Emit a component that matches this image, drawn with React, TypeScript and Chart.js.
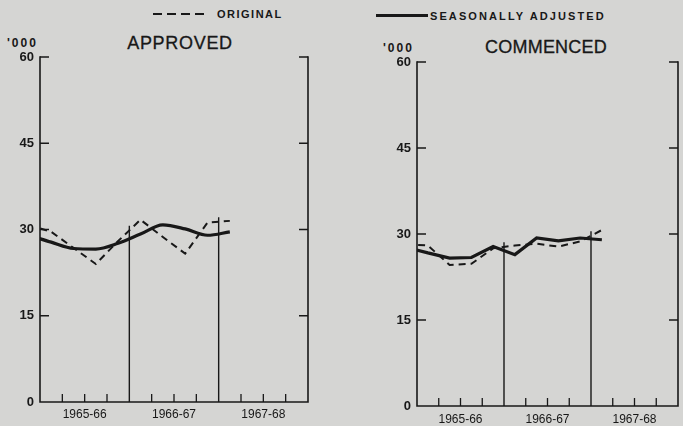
import React, { useEffect, useRef } from 'react';
import { Chart, registerables } from 'chart.js';

Chart.register(...registerables);

// Quarters plotted (mid-quarter). Jun 1965 lies half a quarter before the axis start.
const quarters = ['Jun 1965', 'Sep 1965', 'Dec 1965', 'Mar 1966', 'Jun 1966', 'Sep 1966', 'Dec 1966', 'Mar 1967', 'Jun 1967', 'Sep 1967'];
const yearLabels = ['1965-66', '1966-67', '1967-68'];
const yTickValues = [0, 15, 30, 45, 60];

// Dwellings, '000
const approvedOriginal = [30.8, 29.6, 26.8, 24.0, 28.0, 31.7, 28.7, 25.8, 31.2, 31.5];
const approvedAdjusted = [29.0, 27.8, 26.7, 26.6, 27.6, 29.2, 30.8, 30.1, 29.0, 29.6];
const commencedOriginal = [28.2, 28.0, 24.6, 24.8, 27.5, 28.0, 28.3, 27.8, 28.7, 30.7];
const commencedAdjusted = [27.7, 26.7, 25.8, 25.9, 27.8, 26.4, 29.3, 28.8, 29.3, 29.0];

const INK = '#181818';
const BG = '#d5d5d3';
const FONT = "'Liberation Sans', Arial, sans-serif";

const QUARTERS_SPAN = yearLabels.length * 4;

type Pt = { x: number; y: number };

function toPoints(values: number[]): Pt[] {
  return values.map((v, i) => ({ x: i - 0.5, y: v }));
}

function interp(pts: Pt[], q: number): number {
  for (let i = 0; i < pts.length - 1; i++) {
    const a = pts[i], b = pts[i + 1];
    if (q >= a.x && q <= b.x) {
      const t = (q - a.x) / (b.x - a.x);
      return a.y + t * (b.y - a.y);
    }
  }
  return pts[pts.length - 1].y;
}

const framePlugin = {
  id: 'frame',
  beforeDatasetsDraw(chart: any) {
    const { ctx, chartArea, scales } = chart;
    const { left, right, top, bottom } = chartArea;
    const x = scales.x, y = scales.y;
    ctx.save();
    ctx.strokeStyle = INK;
    ctx.lineWidth = 1.6;
    ctx.lineCap = 'square';
    ctx.beginPath();
    ctx.moveTo(left, top);
    ctx.lineTo(left, bottom);
    ctx.lineTo(right, bottom);
    ctx.lineTo(right, top);
    ctx.stroke();

    ctx.lineWidth = 1.3;
    ctx.lineCap = 'butt';
    ctx.beginPath();
    for (const v of yTickValues) {
      if (v === 0) continue;
      const py = y.getPixelForValue(v);
      ctx.moveTo(left, py);
      ctx.lineTo(left + 9, py);
      ctx.moveTo(right, py);
      ctx.lineTo(right - 9, py);
    }
    for (let q = 1; q < QUARTERS_SPAN; q++) {
      if (q % 4 === 0) continue;
      const px = x.getPixelForValue(q);
      ctx.moveTo(px, bottom);
      ctx.lineTo(px, bottom - 8);
    }
    ctx.stroke();

    // year separators, rising to just above the plotted lines
    const series: Pt[][] = chart.data.datasets.map((d: any) => d.data as Pt[]);
    ctx.lineWidth = 1.4;
    ctx.beginPath();
    for (let q = 4; q < QUARTERS_SPAN; q += 4) {
      const topVal = Math.max(...series.map((s) => interp(s, q))) + 0.8;
      const px = x.getPixelForValue(q);
      ctx.moveTo(px, bottom);
      ctx.lineTo(px, y.getPixelForValue(topVal));
    }
    ctx.stroke();
    ctx.restore();
  },
};

type PanelProps = {
  original: number[];
  adjusted: number[];
  smooth: boolean;
  padding: { left: number; right: number; top: number; bottom: number };
  xLabelPad: number;
};

function Panel({ original, adjusted, smooth, padding, xLabelPad }: PanelProps) {
  const ref = useRef<HTMLCanvasElement | null>(null);
  useEffect(() => {
    if (!ref.current) return;
    const yearCentres = yearLabels.map((_, i) => i * 4 + 2);
    const chart = new Chart(ref.current, {
      type: 'line',
      data: {
        datasets: [
          {
            label: 'ORIGINAL',
            data: toPoints(original),
            borderColor: INK,
            borderWidth: 2,
            borderDash: [7, 5],
            pointRadius: 0,
            tension: 0,
            fill: false,
            clip: 0 as any,
          },
          {
            label: 'SEASONALLY ADJUSTED',
            data: toPoints(adjusted),
            borderColor: INK,
            borderWidth: 3.2,
            pointRadius: 0,
            tension: smooth ? 0.4 : 0,
            cubicInterpolationMode: smooth ? 'monotone' : 'default',
            fill: false,
            clip: 0 as any,
          },
        ],
      },
      options: {
        animation: false,
        responsive: false,
        maintainAspectRatio: false,
        layout: { padding },
        plugins: {
          legend: { display: false },
          tooltip: { enabled: false },
          title: { display: false },
        },
        scales: {
          x: {
            type: 'linear',
            min: 0,
            max: QUARTERS_SPAN,
            grid: { display: false, drawTicks: false },
            border: { display: false },
            afterBuildTicks: (s: any) => {
              s.ticks = yearCentres.map((v) => ({ value: v }));
            },
            afterFit: (s: any) => {
              s.height = 20;
            },
            ticks: {
              autoSkip: false,
              maxRotation: 0,
              padding: xLabelPad,
              color: INK,
              font: { family: FONT, size: 12 },
              callback: (v: any) => {
                const i = yearCentres.indexOf(Number(v));
                return i >= 0 ? yearLabels[i] : '';
              },
            },
          },
          y: {
            type: 'linear',
            min: 0,
            max: 60,
            grid: { display: false, drawTicks: false },
            border: { display: false },
            afterBuildTicks: (s: any) => {
              s.ticks = yTickValues.map((v) => ({ value: v }));
            },
            afterFit: (s: any) => {
              s.width = 40;
            },
            ticks: {
              padding: 6,
              color: INK,
              font: { family: FONT, size: 13, weight: 'bold' },
            },
          },
        },
      } as any,
      plugins: [framePlugin],
    });
    return () => chart.destroy();
  }, []);
  return (
    <canvas
      ref={ref}
      width={683}
      height={426}
      style={{ position: 'absolute', left: 0, top: 0, width: 683, height: 426, pointerEvents: 'none' }}
    />
  );
}

const textBase: React.CSSProperties = {
  position: 'absolute',
  whiteSpace: 'nowrap',
  fontFamily: FONT,
  color: INK,
  lineHeight: 1,
};

export default function App() {
  return (
    <div
      style={{
        position: 'fixed',
        left: 0,
        top: 0,
        width: 683,
        height: 426,
        overflow: 'hidden',
        background: BG,
      }}
    >
      {/* legend */}
      <div
        style={{
          position: 'absolute',
          left: 153,
          top: 13,
          width: 56,
          height: 2,
          background: `repeating-linear-gradient(90deg, ${INK} 0 9px, transparent 9px 14px)`,
        }}
      />
      <div style={{ ...textBase, left: 217, top: 9, fontSize: 11, fontWeight: 'bold', letterSpacing: '1.5px' }}>ORIGINAL</div>
      <div style={{ position: 'absolute', left: 376, top: 14, width: 52, height: 3, background: INK }} />
      <div style={{ ...textBase, left: 430, top: 11, fontSize: 11, fontWeight: 'bold', letterSpacing: '2.1px' }}>SEASONALLY ADJUSTED</div>

      {/* titles */}
      <div style={{ ...textBase, left: 180, top: 34, fontSize: 18, letterSpacing: '0.7px', transform: 'translateX(-50%)', WebkitTextStroke: '0.3px ' + INK }}>APPROVED</div>
      <div style={{ ...textBase, left: 546, top: 38, fontSize: 18, letterSpacing: '0.2px', transform: 'translateX(-50%)', WebkitTextStroke: '0.3px ' + INK }}>COMMENCED</div>
      <div style={{ ...textBase, left: 7, top: 37, fontSize: 12, fontWeight: 'bold', letterSpacing: '2px' }}>'000</div>
      <div style={{ ...textBase, left: 383, top: 42, fontSize: 12, fontWeight: 'bold', letterSpacing: '2px' }}>'000</div>

      <Panel
        original={approvedOriginal}
        adjusted={approvedAdjusted}
        smooth={true}
        padding={{ left: 0, right: 375, top: 57, bottom: 4 }}
        xLabelPad={5}
      />
      <Panel
        original={commencedOriginal}
        adjusted={commencedAdjusted}
        smooth={false}
        padding={{ left: 377, right: 5, top: 62, bottom: 0 }}
        xLabelPad={6}
      />
    </div>
  );
}
